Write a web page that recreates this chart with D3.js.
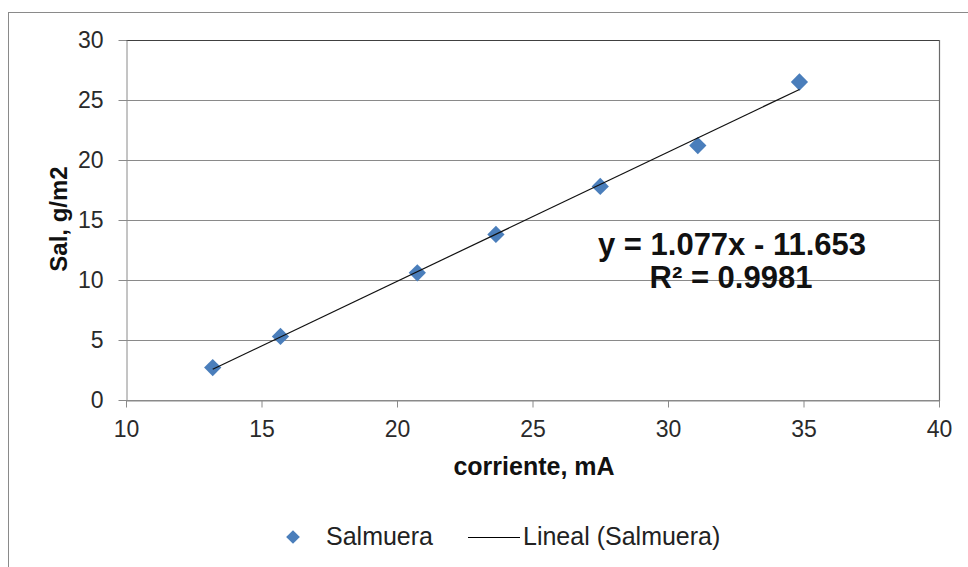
<!DOCTYPE html>
<html>
<head>
<meta charset="utf-8">
<script src="https://cdn.jsdelivr.net/npm/d3@7"></script>
<style>
  html, body { margin: 0; padding: 0; background: #fff; }
  svg { display: block; font-family: Arial, "Liberation Sans", sans-serif; }
</style>
</head>
<body>
<svg id="chart" width="968" height="567"></svg>
<script>
// Data
const corriente = [13.2, 15.7, 20.75, 23.65, 27.5, 31.1, 34.85];
const sal = [2.7, 5.3, 10.6, 13.8, 17.8, 21.2, 26.5];
const xTicks = [10, 15, 20, 25, 30, 35, 40];
const yTicks = [0, 5, 10, 15, 20, 25, 30];
const slope = 1.077, intercept = -11.653;
const eqLabel = "y = 1.077x - 11.653";
const r2Label = "R² = 0.9981";
const seriesName = "Salmuera";
const trendName = "Lineal (Salmuera)";
const xTitle = "corriente, mA";
const yTitle = "Sal, g/m2";

const svg = d3.select("#chart");
const plot = { left: 126, right: 939, top: 40, bottom: 400 };

const x = d3.scaleLinear().domain([10, 40]).range([plot.left, plot.right]);
const y = d3.scaleLinear().domain([0, 30]).range([plot.bottom, plot.top]);

// outer chart border
svg.append("rect").attr("x", 8.5).attr("y", 12.5).attr("width", 980).attr("height", 580)
  .attr("fill", "#fff").attr("stroke", "#8a8a8a").attr("stroke-width", 1);

// gridlines
const gridColor = "#8a8a8a";
svg.append("g").selectAll("line").data(yTicks).join("line")
  .attr("x1", plot.left).attr("x2", plot.right)
  .attr("y1", d => Math.round(y(d)) + 0.5).attr("y2", d => Math.round(y(d)) + 0.5)
  .attr("stroke", gridColor).attr("stroke-width", 1);

// right border of plot area
svg.append("line").attr("x1", plot.right + 0.5).attr("x2", plot.right + 0.5)
  .attr("y1", plot.top).attr("y2", plot.bottom + 1)
  .attr("stroke", "#6a6a6a").attr("stroke-width", 1.2);
// top line slightly darker
svg.append("line").attr("x1", plot.left).attr("x2", plot.right)
  .attr("y1", plot.top + 0.5).attr("y2", plot.top + 0.5)
  .attr("stroke", "#404040").attr("stroke-width", 1);

// axes
const fontTick = 23;
const yAxis = d3.axisLeft(y).tickValues(yTicks).tickSize(8).tickPadding(15).tickSizeOuter(0);
const gy = svg.append("g").attr("transform", `translate(${plot.left + 0.5},0)`).call(yAxis);
gy.select(".domain").attr("stroke", "#8a8a8a");
gy.selectAll(".tick line").attr("stroke", "#8a8a8a");
gy.selectAll(".tick text").attr("font-size", fontTick).attr("fill", "#2a2a2a")
  .attr("font-family", "Arial, 'Liberation Sans', sans-serif");

const xAxis = d3.axisBottom(x).tickValues(xTicks).tickSize(7).tickPadding(13).tickSizeOuter(0);
const gx = svg.append("g").attr("transform", `translate(0,${plot.bottom + 0.5})`).call(xAxis);
gx.select(".domain").attr("stroke", "#8a8a8a");
gx.selectAll(".tick line").attr("stroke", "#8a8a8a");
gx.selectAll(".tick text").attr("font-size", fontTick).attr("fill", "#2a2a2a")
  .attr("font-family", "Arial, 'Liberation Sans', sans-serif");

// markers
const diamond = d3.symbol().type(d3.symbolDiamond2).size(190);
const color = "#4a7ebb";
svg.append("g").selectAll("path").data(corriente).join("path")
  .attr("d", diamond)
  .attr("transform", (d, i) => `translate(${x(d)},${y(sal[i])})`)
  .attr("fill", color);

// trend line (drawn over markers)
const xMin = d3.min(corriente), xMax = d3.max(corriente);
svg.append("line")
  .attr("x1", x(xMin)).attr("y1", y(slope * xMin + intercept))
  .attr("x2", x(xMax)).attr("y2", y(slope * xMax + intercept))
  .attr("stroke", "#111").attr("stroke-width", 1.2);

// equation
svg.append("text").attr("x", 732).attr("y", 255).attr("text-anchor", "middle")
  .attr("font-size", 31).attr("font-weight", "bold").attr("fill", "#111").text(eqLabel);
svg.append("text").attr("x", 731).attr("y", 288).attr("text-anchor", "middle")
  .attr("font-size", 31).attr("font-weight", "bold").attr("fill", "#111").text(r2Label);

// axis titles
svg.append("text").attr("x", 534).attr("y", 475).attr("text-anchor", "middle")
  .attr("font-size", 25).attr("font-weight", "bold").attr("fill", "#111").text(xTitle);
svg.append("text").attr("transform", "translate(67,219) rotate(-90)").attr("text-anchor", "middle")
  .attr("font-size", 24).attr("font-weight", "bold").attr("fill", "#111").text(yTitle);

// legend
const lg = svg.append("g");
lg.append("path").attr("d", d3.symbol().type(d3.symbolDiamond2).size(120))
  .attr("transform", "translate(293,537)").attr("fill", color);
lg.append("text").attr("x", 326).attr("y", 545).attr("font-size", 25).attr("fill", "#222").text(seriesName);
lg.append("line").attr("x1", 468).attr("x2", 520).attr("y1", 537.5).attr("y2", 537.5)
  .attr("stroke", "#000").attr("stroke-width", 1.2);
lg.append("text").attr("x", 523).attr("y", 545).attr("font-size", 25).attr("fill", "#222").text(trendName);
</script>
</body>
</html>
